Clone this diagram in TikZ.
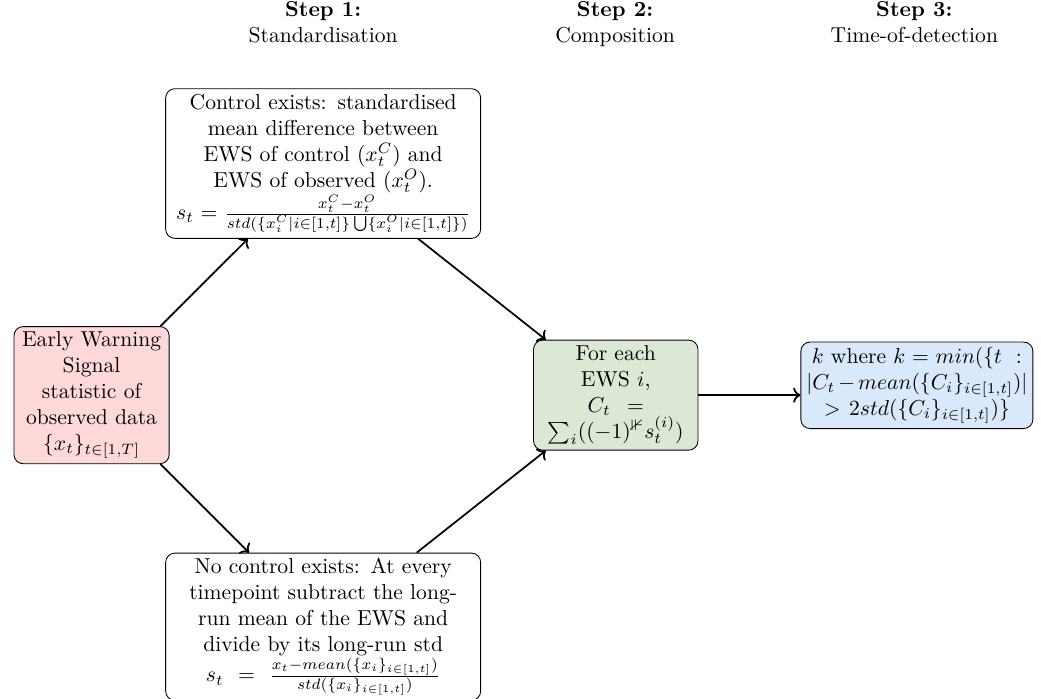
\documentclass[tikz,border=0pt]{standalone}
\usepackage{amsmath,amssymb}
\usepackage{xcolor}
\definecolor{fillred}{RGB}{255,217,218}
\definecolor{fillgreen}{RGB}{218,232,213}
\definecolor{fillblue}{RGB}{218,232,252}
\usepackage{tikz}
\usetikzlibrary{arrows.meta,positioning,calc}
\newcommand{\flow}[2]{\draw[->,thick] (#1) -- (#2)}

\begin{document}
\begin{tikzpicture}[
      node distance=5.33cm,
      stage/.style={rectangle,draw=black,rounded corners=1.5mm,align=center,inner sep=2.5pt},
      header/.style={align=center,text depth=0.3em}]

      \useasboundingbox (-1.49,-4.93) rectangle (15.45,6.43);

      % Define nodes
      \node [stage,fill=fillred,text width=2.35cm](ews){Early Warning\\ Signal\\ statistic of\\ observed data\\ $\{x_t\}_{t\in[1,T]}$};
      \node [stage,text width=4.95cm,above right of=ews](ctrl){Control exists: standardised mean difference between EWS of control $(x_t^C)$ and EWS of observed $(x_t^O)$.\\
        $s_t = \frac{x_t^C - x_t^O}{std(\{x_i^C | i\in[1,t]\}\bigcup\{x_i^O | i\in[1,t]\})}$};
      \node [stage,text width=4.95cm,below right of=ews](noctrl){No control exists: At every timepoint subtract the long-run mean of the EWS and divide by its long-run std\\
        $s_t \,=\, \frac{x_t - mean(\{x_i\}_{i\in[1,t]})}{std(\{x_i\}_{i\in[1,t]})}$};
      \node [stage,fill=fillgreen,text width=2.5cm,right of=ews,node distance=8.53cm](comp){For each EWS $i$,\\ $C_t \,=$ $\sum_i((-1)^{\nVdash} s_t^{(i)})$};
      \node [stage,fill=fillblue,text width=3.6cm,right of=comp,node distance=4.9cm,yshift=0.16cm](tod){$k$ where $k = min(\{t\ :$ $|C_t - mean(\{C_i\}_{i\in[1,t]})|$ $> 2std(\{C_i\}_{i\in[1,t]})\}$};
      \node [header,above of=ctrl,node distance=2.25cm](h1){\textbf{Step 1:}\\Standardisation};
      \node [header,right of=h1,node distance=4.75cm](h2){\textbf{Step 2:}\\Composition};
      \node [header,right of=h2,node distance=4.87cm](h3){\textbf{Step 3:}\\Time-of-detection};

      % Draw paths
      \flow{ews}{ctrl};
      \flow{ews}{noctrl};
      \flow{ctrl}{comp};
      \flow{noctrl}{comp};
      \draw[->,thick] (comp.east) -- (comp.east -| tod.west);

\end{tikzpicture}
\end{document}
